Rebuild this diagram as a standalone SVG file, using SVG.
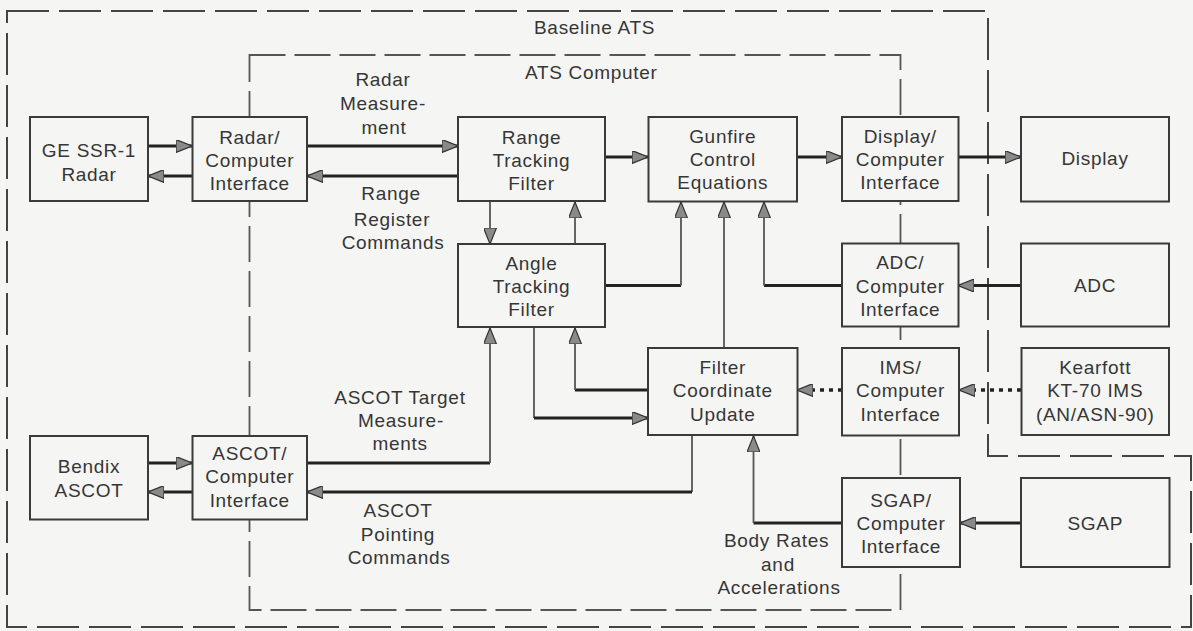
<svg xmlns="http://www.w3.org/2000/svg" width="1193" height="631" viewBox="0 0 1193 631">
<defs>
<style>
.bg{fill:#f5f5f3}
.box{fill:#f5f5f3;stroke:#3a3a3a;stroke-width:2}
.t{font-family:"Liberation Sans",Arial,sans-serif;font-size:19px;letter-spacing:0.7px;fill:#363636;text-anchor:middle}
.lbl{font-family:"Liberation Sans",Arial,sans-serif;font-size:19px;letter-spacing:0.7px;fill:#363636}
.bnd{fill:none;stroke:#444;stroke-width:2;stroke-dasharray:42 10}
.bnd2{fill:none;stroke:#555;stroke-width:1.8;stroke-dasharray:36 9}
.h{fill:none;stroke:#222;stroke-width:3.2}
.v{fill:none;stroke:#555;stroke-width:1.8}
.d{fill:none;stroke:#222;stroke-width:3.5;stroke-dasharray:4 5}
</style>
<marker id="ah" viewBox="0 0 16 13" refX="16" refY="6.5" markerWidth="16" markerHeight="13" markerUnits="userSpaceOnUse" orient="auto">
<path d="M0,0 L16,6.5 L0,13 Z" fill="#8a8a8a" stroke="#333" stroke-width="1.2"/>
</marker>
</defs>
<rect class="bg" x="0" y="0" width="1193" height="631"/>
<g id="boundaries">
<path class="bnd" d="M7,11 H988 V456 H1191 V627 H7 Z"/>
<rect class="bnd2" x="249.5" y="55" width="651" height="555"/>
<text class="lbl" x="534" y="34">Baseline ATS</text>
<text class="lbl" x="525" y="79">ATS Computer</text>
</g>
<g id="connectors">
<path class="h" d="M148,146 H192" marker-end="url(#ah)"/>
<path class="h" d="M192,176 H148" marker-end="url(#ah)"/>
<path class="h" d="M307,146 H458" marker-end="url(#ah)"/>
<path class="h" d="M458,176 H307" marker-end="url(#ah)"/>
<path class="h" d="M605,157 H648" marker-end="url(#ah)"/>
<path class="h" d="M797,157 H842" marker-end="url(#ah)"/>
<path class="h" d="M958,157 H1021" marker-end="url(#ah)"/>
<path class="v" d="M490,201 V244" marker-end="url(#ah)"/>
<path class="v" d="M575,244 V202" marker-end="url(#ah)"/>
<path class="h" d="M605,285.5 H681"/>
<path class="v" d="M681,285.5 V202" marker-end="url(#ah)"/>
<path class="v" d="M724,348 V202" marker-end="url(#ah)"/>
<path class="h" d="M842,285.5 H764"/>
<path class="v" d="M764,285.5 V202" marker-end="url(#ah)"/>
<path class="h" d="M1021,285.5 H958" marker-end="url(#ah)"/>
<path class="h" d="M307,463 H490"/>
<path class="v" d="M490,463 V328" marker-end="url(#ah)"/>
<path class="v" d="M534,327 V418"/>
<path class="h" d="M534,418 H648" marker-end="url(#ah)"/>
<path class="h" d="M648,390 H575"/>
<path class="v" d="M575,390 V328" marker-end="url(#ah)"/>
<path class="d" d="M842,390 H797" marker-end="url(#ah)"/>
<path class="d" d="M1021,390 H959" marker-end="url(#ah)"/>
<path class="h" d="M842,523 H753.5"/>
<path class="v" d="M753.5,523 V436" marker-end="url(#ah)"/>
<path class="h" d="M1021,523 H960" marker-end="url(#ah)"/>
<path class="v" d="M692,435 V492"/>
<path class="h" d="M692,492 H307" marker-end="url(#ah)"/>
<path class="h" d="M148,463 H192" marker-end="url(#ah)"/>
<path class="h" d="M192,492 H148" marker-end="url(#ah)"/>
</g>
<g id="labels">
<text class="t"><tspan x="383" y="85.5">Radar</tspan><tspan x="383" y="109.5">Measure-</tspan><tspan x="384" y="133.5">ment</tspan></text>
<text class="t"><tspan x="391" y="199.5">Range</tspan><tspan x="392" y="225.5">Register</tspan><tspan x="393" y="248.5">Commands</tspan></text>
<text class="t"><tspan x="400" y="403.5">ASCOT Target</tspan><tspan x="401" y="426.5">Measure-</tspan><tspan x="400" y="449.5">ments</tspan></text>
<text class="t"><tspan x="398" y="516.5">ASCOT</tspan><tspan x="398" y="540.5">Pointing</tspan><tspan x="399" y="563.5">Commands</tspan></text>
<text class="t"><tspan x="776.5" y="546.5">Body Rates</tspan><tspan x="778" y="570.5">and</tspan><tspan x="779" y="593.5">Accelerations</tspan></text>
</g>
<g id="ge-radar"><rect class="box" x="30" y="117" width="118" height="84"/><text class="t"><tspan x="89" y="157">GE SSR-1</tspan><tspan x="89" y="181">Radar</tspan></text></g>
<g id="radar-ci"><rect class="box" x="192.5" y="117" width="114.5" height="84"/><text class="t"><tspan x="249.75" y="143.5">Radar/</tspan><tspan x="249.75" y="166.5">Computer</tspan><tspan x="249.75" y="189.5">Interface</tspan></text></g>
<g id="range-filter"><rect class="box" x="458" y="117" width="147" height="84"/><text class="t"><tspan x="531.5" y="143.5">Range</tspan><tspan x="531.5" y="166.5">Tracking</tspan><tspan x="531.5" y="189.5">Filter</tspan></text></g>
<g id="gunfire"><rect class="box" x="648.5" y="117" width="148.5" height="84.5"/><text class="t"><tspan x="722.75" y="142.5">Gunfire</tspan><tspan x="722.75" y="165.5">Control</tspan><tspan x="722.75" y="188.5">Equations</tspan></text></g>
<g id="display-ci"><rect class="box" x="842" y="117" width="116.5" height="84"/><text class="t"><tspan x="900.25" y="142.5">Display/</tspan><tspan x="900.25" y="165.5">Computer</tspan><tspan x="900.25" y="188.5">Interface</tspan></text></g>
<g id="display"><rect class="box" x="1021" y="117" width="148" height="84.5"/><text class="t" x="1095" y="165">Display</text></g>
<g id="angle-filter"><rect class="box" x="458" y="244" width="147" height="83"/><text class="t"><tspan x="531.5" y="269.5">Angle</tspan><tspan x="531.5" y="293">Tracking</tspan><tspan x="531.5" y="316">Filter</tspan></text></g>
<g id="adc-ci"><rect class="box" x="842" y="243.5" width="116.5" height="83"/><text class="t"><tspan x="900.25" y="268.5">ADC/</tspan><tspan x="900.25" y="292.5">Computer</tspan><tspan x="900.25" y="315.5">Interface</tspan></text></g>
<g id="adc"><rect class="box" x="1021" y="243.5" width="148" height="83"/><text class="t" x="1095" y="291.5">ADC</text></g>
<g id="coord-update"><rect class="box" x="648" y="348" width="149.5" height="87"/><text class="t"><tspan x="722.75" y="373.5">Filter</tspan><tspan x="722.75" y="396.5">Coordinate</tspan><tspan x="722.75" y="420.5">Update</tspan></text></g>
<g id="ims-ci"><rect class="box" x="842" y="348" width="117" height="87.5"/><text class="t"><tspan x="900.5" y="373.5">IMS/</tspan><tspan x="900.5" y="396.5">Computer</tspan><tspan x="900.5" y="420.5">Interface</tspan></text></g>
<g id="kearfott"><rect class="box" x="1021.5" y="348" width="147.5" height="87"/><text class="t"><tspan x="1095.25" y="373.5">Kearfott</tspan><tspan x="1095.25" y="396.5">KT-70 IMS</tspan><tspan x="1095.25" y="420.5">(AN/ASN-90)</tspan></text></g>
<g id="sgap-ci"><rect class="box" x="842" y="478" width="118" height="89"/><text class="t"><tspan x="901" y="506.5">SGAP/</tspan><tspan x="901" y="529.5">Computer</tspan><tspan x="901" y="553">Interface</tspan></text></g>
<g id="sgap"><rect class="box" x="1021" y="478" width="148.5" height="89"/><text class="t" x="1095.25" y="529.5">SGAP</text></g>
<g id="bendix"><rect class="box" x="30" y="436" width="118" height="83.5"/><text class="t"><tspan x="89" y="473">Bendix</tspan><tspan x="89" y="496.5">ASCOT</tspan></text></g>
<g id="ascot-ci"><rect class="box" x="192.5" y="436" width="114.5" height="83.5"/><text class="t"><tspan x="249.75" y="459.5">ASCOT/</tspan><tspan x="249.75" y="483">Computer</tspan><tspan x="249.75" y="507">Interface</tspan></text></g>
</svg>
